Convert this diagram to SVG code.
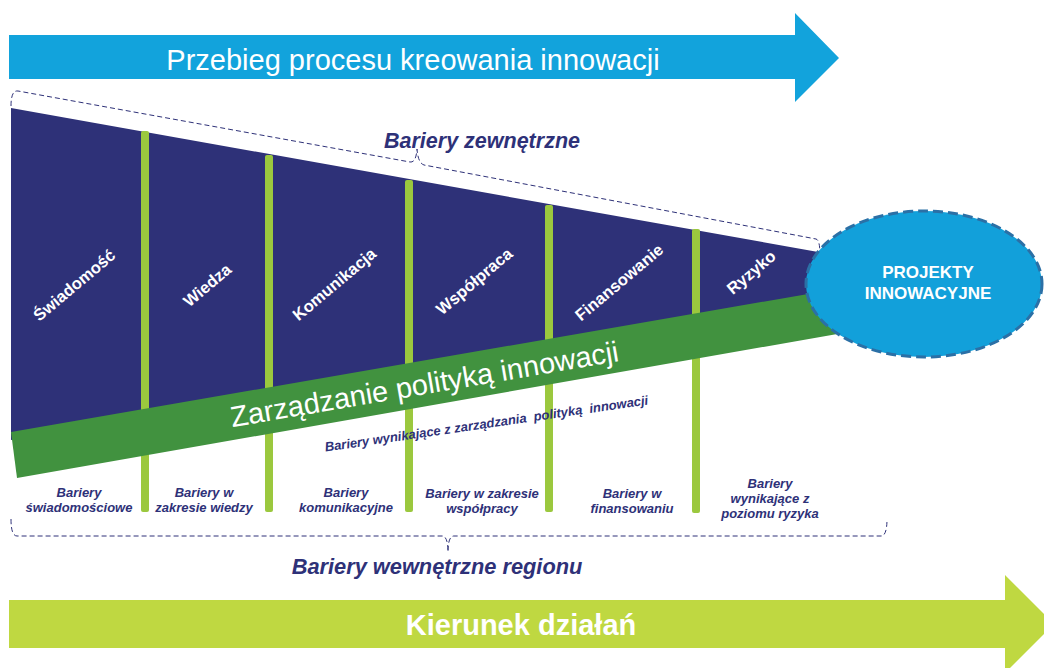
<svg xmlns="http://www.w3.org/2000/svg" width="1044" height="668" viewBox="0 0 1044 668">
<style>
.navytxt{fill:#2e3178;font-family:"Liberation Sans",Arial,sans-serif;font-weight:bold;font-style:italic}
.lbl{fill:#fff;font-family:"Liberation Sans",Arial,sans-serif;font-weight:bold;font-size:16.5px;text-anchor:middle}
.bot{font-size:13px;text-anchor:middle}
.bar{fill:#9bc83e}
.brace{fill:none;stroke:#2e3178;stroke-width:1;stroke-dasharray:5 3}
</style>
<rect width="1044" height="668" fill="#fff"/>
<g id="arrow-top">
<polygon points="9,35 795,35 795,13 839,58 795,102 795,79 9,79" fill="#12a3dc"/>
<text x="413" y="70" fill="#fff" font-family="Liberation Sans, Arial, sans-serif" font-size="29" text-anchor="middle">Przebieg procesu kreowania innowacji</text>
</g>
<g id="funnel">
<polygon points="11,108 835,255 835,300 11,440" fill="#2e3178"/>
</g>
<g id="bars">
<rect class="bar" x="141" y="131" width="8" height="381" rx="2"/>
<rect class="bar" x="265" y="155" width="8" height="357" rx="2"/>
<rect class="bar" x="405" y="180" width="8" height="332" rx="2"/>
<rect class="bar" x="545" y="205" width="8" height="307" rx="2"/>
<rect class="bar" x="692" y="229" width="8" height="284" rx="2"/>
</g>
<g id="band">
<polygon points="11,432 860,285 860,330 17,478" fill="#41923f"/>
<text transform="translate(426,394) rotate(-9.7)" fill="#fff" font-family="Liberation Sans, Arial, sans-serif" font-size="29" text-anchor="middle">Zarządzanie polityką innowacji</text>
</g>
<g id="stages">
<text class="lbl" transform="translate(74,285) rotate(-40)" y="6">Świadomość</text>
<text class="lbl" transform="translate(207,285) rotate(-40)" y="6">Wiedza</text>
<text class="lbl" transform="translate(334,284) rotate(-40)" y="6">Komunikacja</text>
<text class="lbl" transform="translate(474,281) rotate(-40)" y="6">Współpraca</text>
<text class="lbl" transform="translate(619,282) rotate(-40)" y="6">Finansowanie</text>
<text class="lbl" transform="translate(751,272) rotate(-40)" y="6">Ryzyko</text>
</g>
<g id="connectors">
<path class="brace" d="M11,106 Q11,90 18,91 L410,162 Q416,163 417,149 Q418,163 424,165 L816,239 Q820,240 820,255"/>
<path class="brace" d="M11,519 Q11,536 17,536 L442,536 Q448,536 448,552 Q448,536 454,536 L881,536 Q887,536 887,519"/>
</g>
<g id="projekty">
<ellipse cx="924" cy="284" rx="118" ry="73" fill="#12a0da" stroke="#2b70a6" stroke-width="3" stroke-dasharray="10 5"/>
<text x="928" y="278" fill="#fff" font-family="Liberation Sans, Arial, sans-serif" font-weight="bold" font-size="17" text-anchor="middle">PROJEKTY</text>
<text x="928" y="299" fill="#fff" font-family="Liberation Sans, Arial, sans-serif" font-weight="bold" font-size="17" text-anchor="middle">INNOWACYJNE</text>
</g>
<g id="labels">
<text class="navytxt" x="482" y="148" font-size="21.5" text-anchor="middle">Bariery zewnętrzne</text>
<text class="navytxt" x="437" y="574" font-size="21.8" text-anchor="middle">Bariery wewnętrzne regionu</text>
<text class="navytxt" transform="translate(487,428) rotate(-8.3)" font-size="13" text-anchor="middle" xml:space="preserve" style="white-space:pre">Bariery wynikające z zarządzania  polityką  innowacji</text>
<text class="navytxt bot" x="79" y="497">Bariery</text>
<text class="navytxt bot" x="79" y="512">świadomościowe</text>
<text class="navytxt bot" x="204" y="497">Bariery w</text>
<text class="navytxt bot" x="204" y="512">zakresie wiedzy</text>
<text class="navytxt bot" x="346" y="497">Bariery</text>
<text class="navytxt bot" x="346" y="512">komunikacyjne</text>
<text class="navytxt bot" x="482" y="498">Bariery w zakresie</text>
<text class="navytxt bot" x="482" y="513">współpracy</text>
<text class="navytxt bot" x="632" y="498">Bariery w</text>
<text class="navytxt bot" x="632" y="513">finansowaniu</text>
<text class="navytxt bot" x="770" y="488">Bariery</text>
<text class="navytxt bot" x="770" y="503">wynikające z</text>
<text class="navytxt bot" x="770" y="518">poziomu ryzyka</text>
</g>
<g id="arrow-bottom">
<polygon points="9,600 1005,600 1005,575 1054,624 1005,673 1005,648 9,648" fill="#bfd841"/>
<text x="521" y="635" fill="#fff" font-family="Liberation Sans, Arial, sans-serif" font-weight="bold" font-size="29" text-anchor="middle">Kierunek działań</text>
</g>
</svg>
